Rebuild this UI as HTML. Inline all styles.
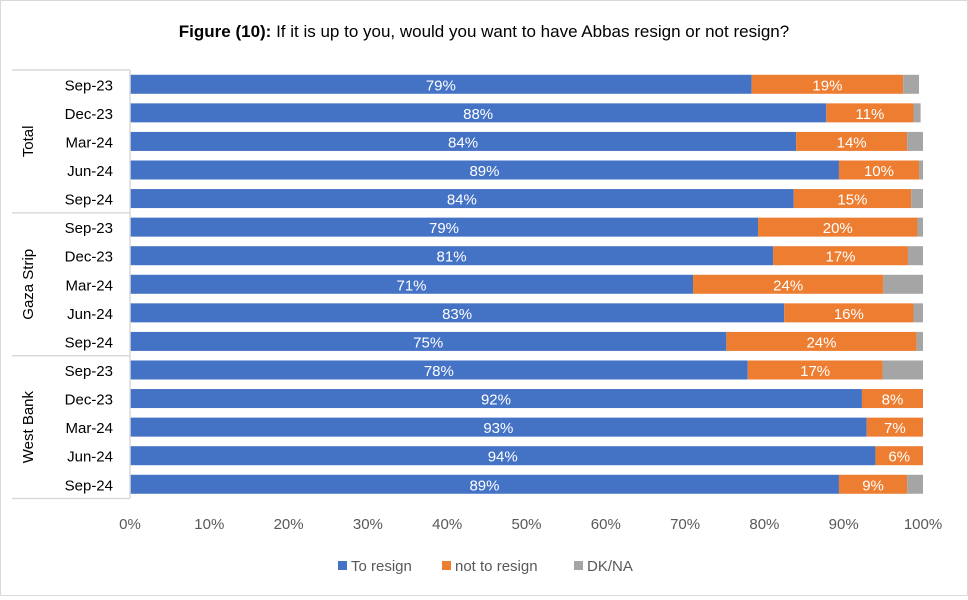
<!DOCTYPE html>
<html><head><meta charset="utf-8"><style>
body{margin:0;background:#fff;font-family:"Liberation Sans",sans-serif}
#c{position:relative;width:968px;height:596px;box-sizing:border-box;border:1px solid #d9d9d9}
</style></head><body>
<div id="c">
<svg id="s" width="966" height="594" xmlns="http://www.w3.org/2000/svg"></svg>
</div>
<script>
const groups=["Total","Gaza Strip","West Bank"];
const periods=["Sep-23","Dec-23","Mar-24","Jun-24","Sep-24"];
const resign=[78.4,87.8,84.0,89.4,83.7,79.2,81.1,71.0,82.5,75.2,77.9,92.3,92.9,94.0,89.4];
const notResign=[19.1,11.0,14.0,10.1,14.8,20.1,17.0,24.0,16.3,24.0,17.0,7.7,7.1,6.0,8.6];
const dkna=[2.0,0.9,2.0,0.5,1.5,0.7,1.9,5.0,1.2,0.8,5.1,0,0,0,2.0];
const resignLabels=["79%","88%","84%","89%","84%","79%","81%","71%","83%","75%","78%","92%","93%","94%","89%"];
const notLabels=["19%","11%","14%","10%","15%","20%","17%","24%","16%","24%","17%","8%","7%","6%","9%"];
const ticks=[0,10,20,30,40,50,60,70,80,90,100];
const svg=document.getElementById('s');const NS="http://www.w3.org/2000/svg";
function mk(t,a,txt){const e=document.createElementNS(NS,t);for(const k in a)e.setAttribute(k,a[k]);if(txt!==undefined)e.textContent=txt;svg.appendChild(e);return e;}
const x0=129,x1=922,yTop=69,rowH=28.57;
const X=v=>x0+(x1-x0)*v/100;
const Y=i=>yTop+rowH*i+rowH/2;
const t=mk('text',{x:483,y:36,'text-anchor':'middle','font-size':17,fill:'#000'});


t.innerHTML='<tspan font-weight="bold">Figure (10):</tspan> If it is up to you, would you want to have Abbas resign or not resign?';
const colors=["#4472c4","#ed7d31","#a5a5a5"];
for(let i=0;i<15;i++){
 const vals=[resign[i],notResign[i],dkna[i]];let acc=0;
 vals.forEach((v,k)=>{
  const r=mk('rect',{x:X(acc),y:Y(i)-9.5,width:X(acc+v)-X(acc),height:19,fill:colors[k]});
  
  
  acc+=v;
 });
 const l1=mk('text',{x:(X(0)+X(resign[i]))/2,y:Y(i)+6,'text-anchor':'middle','font-size':15,fill:'#fff'},resignLabels[i]);
 
 
 const l2=mk('text',{x:(X(resign[i])+X(resign[i]+notResign[i]))/2,y:Y(i)+6,'text-anchor':'middle','font-size':15,fill:'#fff'},notLabels[i]);
 
 
 const pl=mk('text',{x:112,y:Y(i)+6,'text-anchor':'end','font-size':15,fill:'#000'},periods[i%5]);
 
 
}
for(let g=0;g<=3;g++){
 const y=yTop+rowH*5*g;
 const ln=mk('line',{x1:11,x2:x0,y1:y,y2:y,stroke:'#d9d9d9','stroke-width':1.5});
 
 
}
const ax=mk('line',{x1:x0,x2:x0,y1:yTop,y2:yTop+rowH*15,stroke:'#d9d9d9','stroke-width':1.5});


groups.forEach((gname,g)=>{
 const cy=yTop+rowH*5*g+rowH*2.5;
 const gl=mk('text',{x:0,y:0,transform:`translate(32,${cy}) rotate(-90)`,'text-anchor':'middle','font-size':15,fill:'#000'},gname);
 
 
});
ticks.forEach(v=>{
 const tl=mk('text',{x:X(v),y:528,'text-anchor':'middle','font-size':15,fill:'#595959'},v+'%');
 
 
});
const leg=[["To resign",337],["not to resign",441],["DK/NA",573]];
leg.forEach(([n,x],k)=>{
 const r=mk('rect',{x:x,y:560,width:9,height:9,fill:colors[k]});
 
 
 const tx=mk('text',{x:x+13,y:570,'font-size':15,fill:'#595959'},n);
 
 
});
</script>
</body></html>
